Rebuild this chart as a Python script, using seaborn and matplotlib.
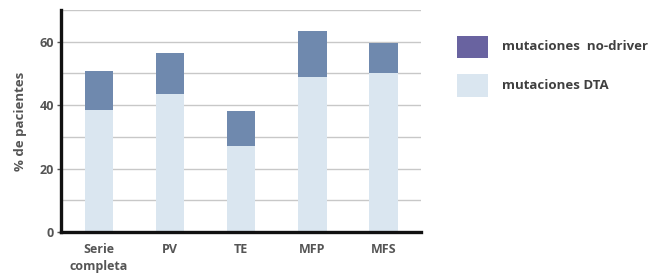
import matplotlib
matplotlib.use("Agg")
import matplotlib.pyplot as plt
import seaborn as sns
import pandas as pd
from matplotlib.patches import Rectangle

categories = ["Serie\ncompleta", "PV", "TE", "MFP", "MFS"]
total_values = [50.8, 56.4, 38.2, 63.3, 59.6]
dta_values = [38.5, 43.5, 27.3, 48.8, 50.1]
legend_labels = ["mutaciones  no-driver", "mutaciones DTA"]

dark = "#6F89AE"
light = "#DAE6F0"
legend_dark = "#6963A0"

sns.set_theme(style="white")
plt.rcParams["font.family"] = ["Open Sans", "DejaVu Sans"]

df = pd.DataFrame({"cat": categories, "total": total_values, "dta": dta_values})

W, H = 651, 279
fig = plt.figure(figsize=(6.51, 2.79), dpi=100)
ax = fig.add_axes([0.094, 0.168, 0.553, 0.796])

sns.barplot(data=df, x="cat", y="total", color=dark, width=0.4, ax=ax,
            saturation=1, zorder=3, linewidth=0)
sns.barplot(data=df, x="cat", y="dta", color=light, width=0.4, ax=ax,
            saturation=1, zorder=3, linewidth=0)

ax.set_ylim(0, 70)
ax.set_xlim(-0.53, 4.53)
ax.set_yticks([0, 20, 40, 60])
for yv in range(10, 71, 10):
    ax.axhline(yv, color="#c8c8c8", lw=1.0, zorder=1)

for s in ["top", "right"]:
    ax.spines[s].set_visible(False)
for s in ["left", "bottom"]:
    ax.spines[s].set_color("#111111")
    ax.spines[s].set_linewidth(2.4)
    ax.spines[s].set_zorder(4)

ax.tick_params(axis="y", left=True, length=3, width=1, color="#555555",
               labelsize=9, labelcolor="#555555", pad=2)
ax.tick_params(axis="x", bottom=False, length=0, labelsize=9,
               labelcolor="#555555", pad=8)
for lab in ax.get_xticklabels() + ax.get_yticklabels():
    lab.set_fontweight("bold")
for lab in ax.get_xticklabels():
    lab.set_linespacing(1.4)

ax.set_xlabel("")
ax.set_ylabel("% de pacientes", fontsize=9.5, color="#555555", fontweight="bold",
              labelpad=9)

# legend drawn in figure pixel space
legend_colors = [legend_dark, light]
rows = [(36, 58), (74, 97)]
for (y0, y1), col, lab in zip(rows, legend_colors, legend_labels):
    fig.add_artist(Rectangle((457 / W, 1 - y1 / H), 31 / W, (y1 - y0) / H,
                             transform=fig.transFigure, facecolor=col,
                             edgecolor="none"))
    fig.text(502 / W, 1 - (y0 + y1) / 2 / H, lab, ha="left", va="center",
             fontsize=9.5, fontweight="bold", color="#404040")

fig.savefig("out.png", dpi=100)
